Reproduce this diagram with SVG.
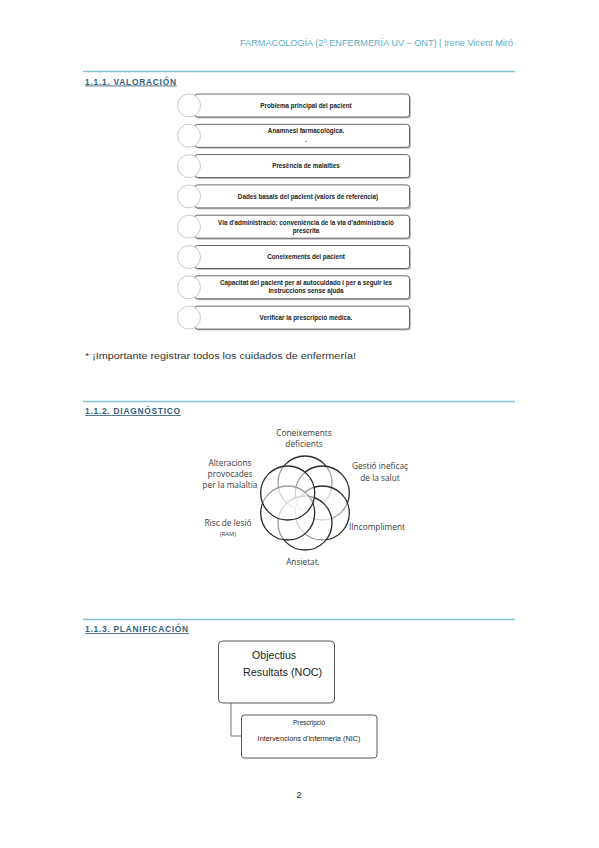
<svg xmlns="http://www.w3.org/2000/svg" width="599" height="848" viewBox="0 0 599 848">
<style>
.hdr{font-family:"Liberation Sans",Arial,sans-serif;font-size:8.8px;fill:#5aafc9}
.sec{font-family:"Liberation Sans",Arial,sans-serif;font-size:8.4px;font-weight:bold;fill:#35607c;letter-spacing:0.75px;text-decoration:underline}
.rule{stroke:#86c0d5;stroke-width:1.5}
.box{fill:#fff;stroke:#555;stroke-width:0.9}
.shadow{fill:#bdbdbd}
.bub{fill:#fff;stroke:#c4c4c4;stroke-width:0.9}
.bt{font-family:"Liberation Sans",Arial,sans-serif;font-size:6.3px;font-weight:bold;fill:#222;text-anchor:middle}
.note{font-family:"Liberation Sans",Arial,sans-serif;font-size:9.6px;fill:#333}
.vl{font-family:"Open Sans","Liberation Sans",sans-serif;font-size:8.3px;fill:#3a3a3a;text-anchor:middle}
.vc{fill:#fff;fill-opacity:0.55;stroke:#2b2b2b;stroke-width:1.3}
.pb{fill:#fff;stroke:#444;stroke-width:0.9}
.pt{font-family:"Liberation Sans",Arial,sans-serif;fill:#222}
.conn{fill:none;stroke:#777;stroke-width:1}
</style>

<text class="hdr" x="240" y="46" textLength="273" lengthAdjust="spacingAndGlyphs">FARMACOLOGÍA (2º ENFERMERÍA UV – ONT) | Irene Vicent Miró</text>
<line class="rule" x1="83" y1="71.5" x2="515" y2="71.5"/>
<text class="sec" x="85" y="84.5">1.1.1. VALORACIÓN</text>

<g id="valoracion">
  <g id="v1">
    <rect class="shadow" x="196" y="95.5" width="215" height="23" rx="3"/>
    <rect class="box" x="194.5" y="94" width="215" height="23" rx="3"/>
    <circle class="bub" cx="189" cy="105.5" r="11.5"/>
    <text class="bt" x="306" y="107.7">Problema principal del pacient</text>
  </g>
  <g id="v2">
    <rect class="shadow" x="196" y="125.8" width="215" height="23" rx="3"/>
    <rect class="box" x="194.5" y="124.3" width="215" height="23" rx="3"/>
    <circle class="bub" cx="189" cy="135.8" r="11.5"/>
    <text class="bt" x="306" y="133">Anamnesi farmacològica.</text>
    <text class="bt" x="306" y="142">.</text>
  </g>
  <g id="v3">
    <rect class="shadow" x="196" y="156.1" width="215" height="23" rx="3"/>
    <rect class="box" x="194.5" y="154.6" width="215" height="23" rx="3"/>
    <circle class="bub" cx="189" cy="166.1" r="11.5"/>
    <text class="bt" x="306" y="168.2">Presència de malalties</text>
  </g>
  <g id="v4">
    <rect class="shadow" x="196" y="186.4" width="215" height="23" rx="3"/>
    <rect class="box" x="194.5" y="184.9" width="215" height="23" rx="3"/>
    <circle class="bub" cx="189" cy="196.4" r="11.5"/>
    <text class="bt" x="308" y="198.6">Dades basals del pacient (valors de referència)</text>
  </g>
  <g id="v5">
    <rect class="shadow" x="196" y="216.7" width="215" height="23" rx="3"/>
    <rect class="box" x="194.5" y="215.2" width="215" height="23" rx="3"/>
    <circle class="bub" cx="189" cy="226.7" r="11.5"/>
    <text class="bt" x="306" y="224.5">Via d'administració: conveniència de la via d'administració</text>
    <text class="bt" x="306" y="232.7">prescrita</text>
  </g>
  <g id="v6">
    <rect class="shadow" x="196" y="247" width="215" height="23" rx="3"/>
    <rect class="box" x="194.5" y="245.5" width="215" height="23" rx="3"/>
    <circle class="bub" cx="189" cy="257" r="11.5"/>
    <text class="bt" x="306" y="259.2">Coneixements del pacient</text>
  </g>
  <g id="v7">
    <rect class="shadow" x="196" y="277.3" width="215" height="23" rx="3"/>
    <rect class="box" x="194.5" y="275.8" width="215" height="23" rx="3"/>
    <circle class="bub" cx="189" cy="287.3" r="11.5"/>
    <text class="bt" x="306" y="285">Capacitat del pacient per al autocuidado i per a seguir les</text>
    <text class="bt" x="306" y="293.2">instruccions sense ajuda</text>
  </g>
  <g id="v8">
    <rect class="shadow" x="196" y="307.6" width="215" height="23" rx="3"/>
    <rect class="box" x="194.5" y="306.1" width="215" height="23" rx="3"/>
    <circle class="bub" cx="189" cy="317.6" r="11.5"/>
    <text class="bt" x="306" y="319.8">Verificar la prescripció mèdica.</text>
  </g>
</g>

<text class="note" x="85" y="359" textLength="271" lengthAdjust="spacingAndGlyphs">* ¡Importante registrar todos los cuidados de enfermería!</text>

<line class="rule" x1="83" y1="401.5" x2="515" y2="401.5"/>
<text class="sec" x="85" y="414">1.1.2. DIAGNÓSTICO</text>

<g id="diagnostico">
  <g id="c-coneix"><circle class="vc" cx="305" cy="483" r="27"/></g>
  <g id="c-gestio"><circle class="vc" cx="322.3" cy="493" r="27"/></g>
  <g id="c-incompl"><circle class="vc" cx="322.3" cy="513" r="27"/></g>
  <g id="c-ansietat"><circle class="vc" cx="305" cy="523" r="27"/></g>
  <g id="c-risc"><circle class="vc" cx="287.7" cy="513" r="27"/></g>
  <g id="c-alter"><circle class="vc" cx="287.7" cy="493" r="27"/></g>
  <text class="vl" x="304" y="436">Coneixements</text>
  <text class="vl" x="304" y="446.5">deficients</text>
  <text class="vl" x="380" y="469">Gestió ineficaç</text>
  <text class="vl" x="380" y="480.5">de la salut</text>
  <text class="vl" x="230" y="466">Alteracions</text>
  <text class="vl" x="230" y="477">provocades</text>
  <text class="vl" x="230" y="488">per la malaltia</text>
  <text class="vl" x="228" y="526">Risc de lesió</text>
  <text class="vl" x="228" y="536" style="font-size:5.8px">(RAM)</text>
  <text class="vl" x="377" y="530">IIncompliment</text>
  <text class="vl" x="303" y="565">Ansietat.</text>
</g>

<line class="rule" x1="83" y1="619.5" x2="515" y2="619.5"/>
<text class="sec" x="85" y="632">1.1.3. PLANIFICACIÓN</text>

<g id="connectors">
  <path class="conn" d="M231 703 V736 H241"/>
</g>
<g id="objectius">
  <rect class="pb" x="218.5" y="641" width="116" height="62" rx="4"/>
  <text class="pt" x="252" y="659" style="font-size:10.6px">Objectius</text>
  <text class="pt" x="243" y="676" style="font-size:10.8px">Resultats (NOC)</text>
</g>
<g id="intervencions">
  <rect class="pb" x="241.5" y="715" width="135.5" height="43" rx="3"/>
  <text class="pt" x="309" y="725" style="font-size:6.5px" text-anchor="middle">Prescripció</text>
  <text class="pt" x="309" y="741" style="font-size:7.3px" text-anchor="middle">Intervencions d'infermeria (NIC)</text>
</g>

<text class="pt" x="299" y="798" style="font-size:9px" text-anchor="middle">2</text>
</svg>
